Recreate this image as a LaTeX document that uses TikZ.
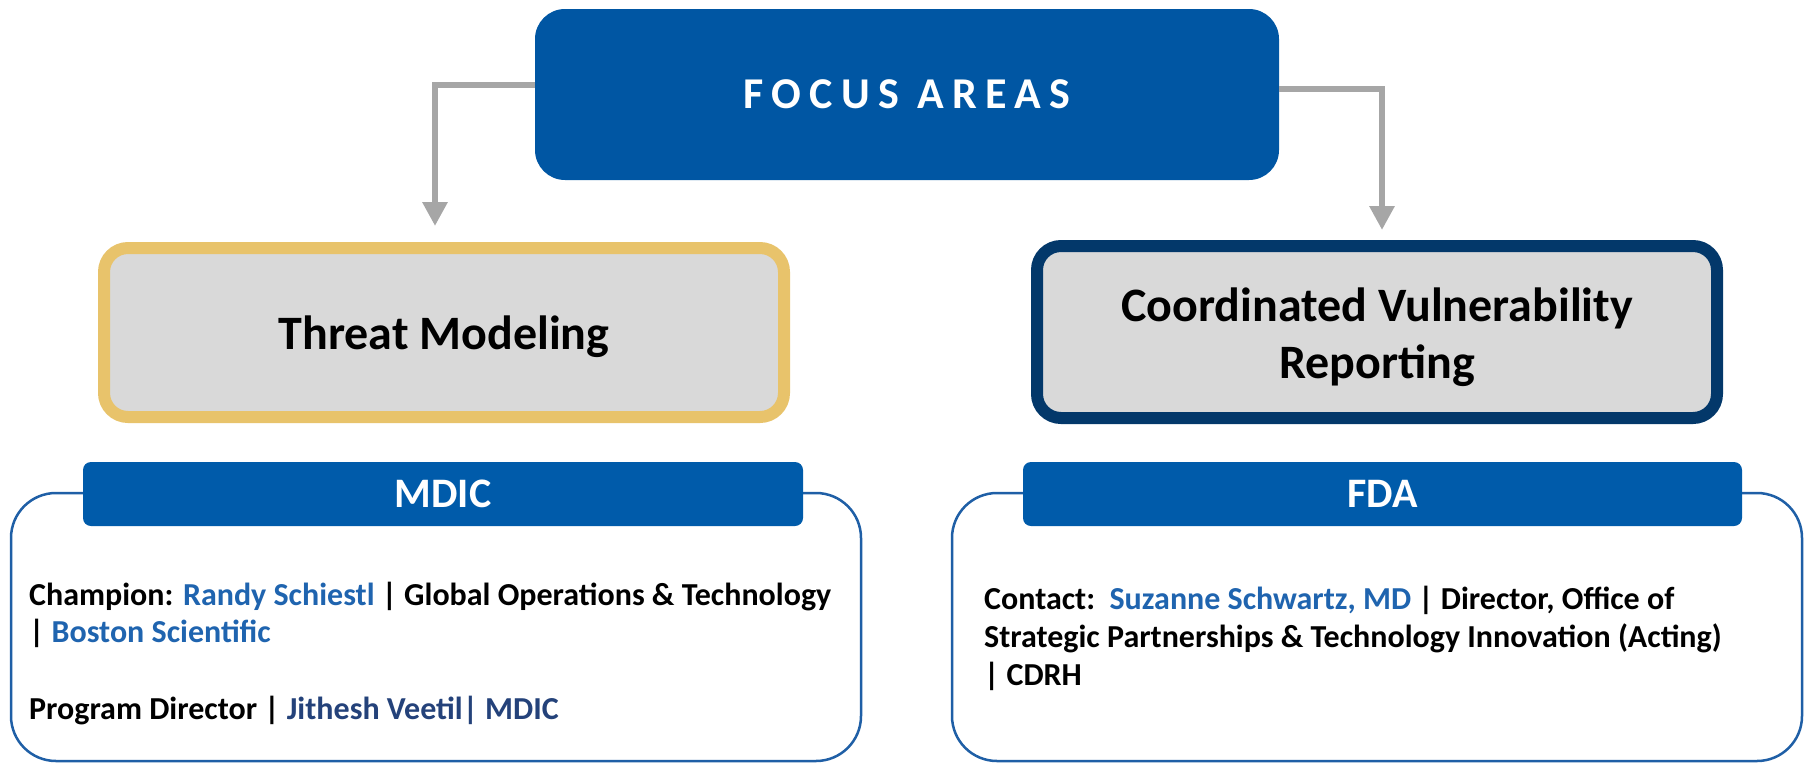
\documentclass[tikz,border=0pt]{standalone}
\usepackage{fontspec}
\setmainfont{Carlito}
\usetikzlibrary{arrows.meta,positioning}

\definecolor{focusblue}{HTML}{0056A3}
\definecolor{barblue}{HTML}{005BAA}
\definecolor{goldline}{HTML}{E8C36B}
\definecolor{navyline}{HTML}{03386A}
\definecolor{boxgray}{HTML}{D9D9D9}
\definecolor{arrowgray}{HTML}{A6A6A6}
\definecolor{frameblue}{HTML}{1F5FA6}
\definecolor{nameblue}{HTML}{1F64AF}
\definecolor{darkname}{HTML}{24427A}

\tikzset{
  areabox/.style={draw, line width=12pt, fill=boxgray, rounded corners=24pt,
    minimum width=680pt, align=center, font=\fontsize{48}{57}\selectfont\bfseries},
  infobox/.style={draw=frameblue, line width=2.5pt, fill=white, rounded corners=45pt,
    minimum width=850pt, minimum height=268pt},
  headbar/.style={fill=barblue, rounded corners=8pt, minimum height=64pt,
    text=white, font=\fontsize{42}{50}\selectfont\bfseries},
  infotext/.style={anchor=north west, inner sep=0pt, align=left,
    font=\fontsize{32}{37}\selectfont\bfseries},
  flowline/.style={draw=arrowgray, line width=6pt,
    -{Triangle[width=24pt,length=24pt]}}
}

\begin{document}
\begin{tikzpicture}[x=1pt, y=-1pt]
\useasboundingbox (0,0) rectangle (1805,764);

% Top box and the two focus areas
\node[fill=focusblue, rounded corners=30pt, minimum width=744pt, minimum height=171pt,
  text=white, font=\fontsize{44}{50}\selectfont\bfseries] (focus) at (907,94.5)
  {\addfontfeature{LetterSpace=19}FOCUS AREAS};
\node[areabox, draw=goldline, minimum height=169pt] (threat) at (444,332.5)
  {\raisebox{-4pt}[\height][\depth]{Threat Modeling}};
\node[areabox, draw=navyline, minimum height=172pt] (cvr) at (1377,332)
  {\raisebox{-7pt}[\height][\depth]{\begin{tabular}{@{}c@{}}Coordinated Vulnerability\\Reporting\end{tabular}}};

% Arrows
\coordinate (tipL) at (435,226);
\coordinate (tipR) at (1382,230);
\draw[flowline] ([yshift=9.5pt]focus.west) -| (tipL);
\draw[flowline] ([yshift=5.5pt]focus.east) -| (tipR);

% Lower boxes with their headers
\node[infobox] (mdicbox) at (436,627) {};
\node[headbar, minimum width=720pt] (mdic) at (443,494) {MDIC};
\node[infobox] (fdabox) at (1377,627) {};
\node[headbar, minimum width=719pt] (fda) at (1382.5,494) {FDA};

\node[infotext] (mdictext) at (29,582)
  {Champion: \textcolor{nameblue}{Randy Schiestl} | Global Operations \& Technology\\
   | \textcolor{nameblue}{Boston Scientific}\\[40pt]
   Program Director | \textcolor{darkname}{Jithesh Veetil| MDIC}};
\node[infotext, font=\fontsize{32}{38}\selectfont\bfseries] (fdatext) at (984,586)
  {Contact:\ \ \textcolor{nameblue}{Suzanne Schwartz, MD} | Director, Office of\\
   Strategic Partnerships \& Technology Innovation (Acting)\\
   | CDRH};
\end{tikzpicture}
\end{document}
